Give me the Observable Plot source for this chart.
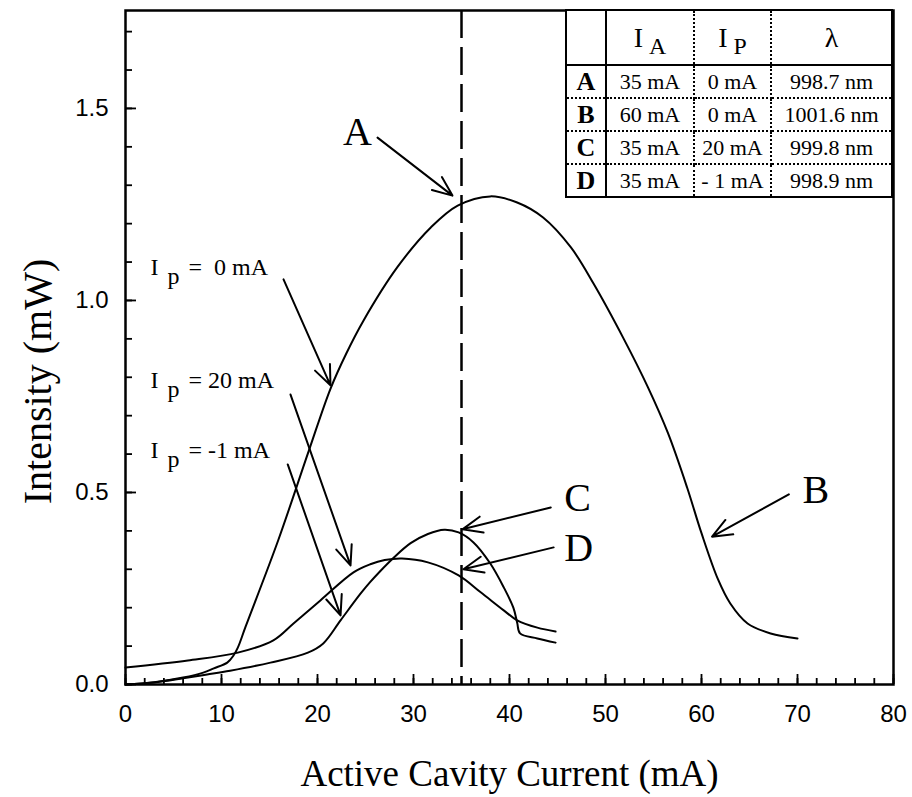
<!DOCTYPE html>
<html><head><meta charset="utf-8">
<script src="https://cdn.jsdelivr.net/npm/d3@7"></script>
<script src="https://cdn.jsdelivr.net/npm/@observablehq/plot@0.6"></script>
<style>
body{margin:0;background:#fff;}
#wrap{position:relative;width:912px;height:797px;background:#fff;}
#tbl{position:absolute;left:565px;top:9px;border-collapse:collapse;font-family:"Liberation Serif","Times New Roman",serif;background:#fff;color:#000;}
#tbl td{padding:0;text-align:center;font-size:22px;border:2px dotted #000;white-space:nowrap;}
#tbl tr.head td{height:53px;font-size:28px;border-bottom:2.5px solid #000;}
#tbl tr.row td{height:31px;}
#tbl td.key{width:38px;font-weight:bold;font-size:26px;border-right:2.5px solid #000;}
#tbl td.ia{width:86px;}
#tbl td.ip{width:75px;}
#tbl td.lam{width:119px;}
#tbl{border:2.5px solid #000;}
.sub{font-size:0.85em;position:relative;top:0.3em;margin-left:0.25em;}
</style></head><body><div id="wrap"></div>
<script>
// Curve A/B : I_p = 0 mA
const ip0X = [0, 3, 6, 8.1, 9.2, 10.6, 11.25, 11.7, 12.5, 15.9, 19.1, 21.35, 23, 24.8, 28.3, 31.8, 34.6, 38.0, 40.8, 43.5, 46.4, 48.75, 51.9, 54.4, 56.5, 58.5, 60, 61.7, 63.0, 64.8, 67.2, 70];
const ip0Y = [0, 0.006, 0.018, 0.031, 0.042, 0.057, 0.0755, 0.096, 0.15, 0.375, 0.609, 0.770, 0.862, 0.948, 1.086, 1.19, 1.247, 1.271, 1.255, 1.216, 1.138, 1.044, 0.90, 0.775, 0.655, 0.513, 0.394, 0.275, 0.211, 0.159, 0.133, 0.12];
// Curve I_p = 20 mA (offset at zero current)
const ip20X = [0, 6.5, 11.7, 15.4, 17.5, 20.3, 23.75, 25.5, 27, 28.8, 31.5, 34.7, 37.0, 39.4, 40.8, 42.9, 44.8];
const ip20Y = [0.044, 0.0625, 0.083, 0.115, 0.159, 0.219, 0.292, 0.313, 0.324, 0.328, 0.318, 0.284, 0.24, 0.193, 0.167, 0.148, 0.138];
// Curve I_p = -1 mA
const ipm1X = [0, 2.9, 6, 8.5, 10.9, 15.1, 19.0, 20.6, 22.4, 24.5, 25.5, 26.6, 27.8, 29.7, 31.5, 33.2, 34.7, 36.25, 38.0, 39.4, 40.4, 40.8, 41.1, 42.9, 44.8];
const ipm1Y = [0, 0.005, 0.016, 0.026, 0.036, 0.057, 0.083, 0.107, 0.167, 0.237, 0.267, 0.297, 0.327, 0.368, 0.392, 0.403, 0.396, 0.37, 0.315, 0.253, 0.2, 0.161, 0.133, 0.12, 0.109];

// Marker at 35 mA
const markerX = [35];

// Arrows: tail -> tip
const arrowTailX = [26.25, 16.46, 17.19, 16.9, 44.3, 44.6, 69.1];
const arrowTailY = [1.424, 1.055, 0.755, 0.573, 0.461, 0.357, 0.495];
const arrowTipX = [34.06, 21.35, 23.44, 22.4, 35.1, 35.2, 61.1];
const arrowTipY = [1.273, 0.779, 0.31, 0.18, 0.404, 0.30, 0.385];

// Letter labels
const letterText = ["A", "B", "C", "D"];
const letterX = [24.17, 71.9, 47.1, 47.2];
const letterY = [1.4375, 0.505, 0.484, 0.354];

// I_p labels
const ipLabelRest = ["=\u00a0\u00a00 mA", "= 20 mA", "= -1 mA"];
const ipLabelX = [2.6, 2.6, 2.6];
const ipLabelY = [1.065, 0.771, 0.589];

// Axis ticks
const xTickLabels = [0, 10, 20, 30, 40, 50, 60, 70, 80];
const xMinorTicks = d3.range(0, 81, 2);
const yTickLabels = [0, 0.5, 1.0, 1.5];
const yMinorTicks = d3.range(0, 1.75, 0.1);

// Table
const tableKeys = ["A", "B", "C", "D"];
const tableIA = ["35 mA", "60 mA", "35 mA", "35 mA"];
const tableIP = ["0 mA", "0 mA", "20 mA", "- 1 mA"];
const tableLambda = ["998.7 nm", "1001.6 nm", "999.8 nm", "998.9 nm"];

const toRows = (xs, ys) => xs.map((x, i) => ({x, y: ys[i]}));
const arrows = arrowTailX.map((x, i) => ({x1: x, y1: arrowTailY[i], x2: arrowTipX[i], y2: arrowTipY[i]}));
const letters = letterText.map((t, i) => ({t, x: letterX[i], y: letterY[i]}));
const ipLabels = ipLabelRest.map((t, i) => ({t, x: ipLabelX[i], y: ipLabelY[i]}));

const serif = "'Liberation Serif','Times New Roman',serif";
const frameW = 912 - 125 - 19;
const frameH = 797 - 10 - 113;
const lineStyle = {x: "x", y: "y", stroke: "black", strokeWidth: 2, curve: "catmull-rom"};

const chart = Plot.plot({
  width: 912, height: 797,
  marginLeft: 125, marginRight: 19, marginTop: 10, marginBottom: 113,
  style: {fontFamily: "'Liberation Sans',Arial,sans-serif", fontSize: "24px", color: "black", background: "white"},
  x: {domain: [0, 80]},
  y: {domain: [0, 1.755]},
  marks: [
    Plot.axisX({ticks: xTickLabels, tickSize: 0, tickPadding: 20, label: null, fontSize: 24}),
    Plot.axisY({ticks: yTickLabels, tickSize: 0, tickPadding: 17, tickFormat: ".1f", label: null, fontSize: 24}),
    Plot.tickX(xMinorTicks, {x: d => d, insetTop: frameH - 6, stroke: "black", strokeWidth: 1.8}),
    Plot.tickX(xTickLabels, {x: d => d, insetTop: frameH - 10, stroke: "black", strokeWidth: 1.8}),
    Plot.tickY(yMinorTicks, {y: d => d, insetRight: frameW - 7, stroke: "black", strokeWidth: 1.8}),
    Plot.tickY(yTickLabels, {y: d => d, insetRight: frameW - 11, stroke: "black", strokeWidth: 1.8}),
    Plot.frame({strokeWidth: 2.5}),
    Plot.ruleX(markerX, {strokeDasharray: "28,9", strokeWidth: 2.5}),
    Plot.line(toRows(ip0X, ip0Y), lineStyle),
    Plot.line(toRows(ip20X, ip20Y), lineStyle),
    Plot.line(toRows(ipm1X, ipm1Y), lineStyle),
    Plot.arrow(arrows, {x1: "x1", y1: "y1", x2: "x2", y2: "y2", stroke: "black", strokeWidth: 2, headLength: 16, headAngle: 45}),
    Plot.text(letters, {x: "x", y: "y", text: "t", fontFamily: serif, fontSize: 40, textAnchor: "middle", lineAnchor: "middle"}),
    Plot.text(ipLabels, {x: "x", y: "y", text: () => "I", fontFamily: serif, fontSize: 24, textAnchor: "start", lineAnchor: "bottom"}),
    Plot.text(ipLabels, {x: "x", y: "y", text: () => "p", fontFamily: serif, fontSize: 24, textAnchor: "start", lineAnchor: "bottom", dx: 17, dy: 9}),
    Plot.text(ipLabels, {x: "x", y: "y", text: "t", fontFamily: serif, fontSize: 24, textAnchor: "start", lineAnchor: "bottom", dx: 38}),
    Plot.text(["Active Cavity Current (mA)"], {text: d => d, frameAnchor: "bottom", dy: 101, lineAnchor: "bottom", fontFamily: serif, fontSize: 37}),
    Plot.text(["Intensity (mW)"], {text: d => d, frameAnchor: "left", rotate: -90, dx: -87, dy: 34, lineAnchor: "middle", textAnchor: "middle", fontFamily: serif, fontSize: 40})
  ]
});

const wrap = document.getElementById("wrap");
wrap.appendChild(chart);

// Legend table
const tbl = document.createElement("table");
tbl.id = "tbl";
let html = '<tr class="head"><td class="key"></td><td class="ia">I<span class="sub">A</span></td><td class="ip">I<span class="sub">P</span></td><td class="lam">λ</td></tr>';
tableKeys.forEach((k, i) => {
  html += `<tr class="row"><td class="key">${k}</td><td class="ia">${tableIA[i]}</td><td class="ip">${tableIP[i]}</td><td class="lam">${tableLambda[i]}</td></tr>`;
});
tbl.innerHTML = html;
wrap.appendChild(tbl);
</script>
</body></html>
